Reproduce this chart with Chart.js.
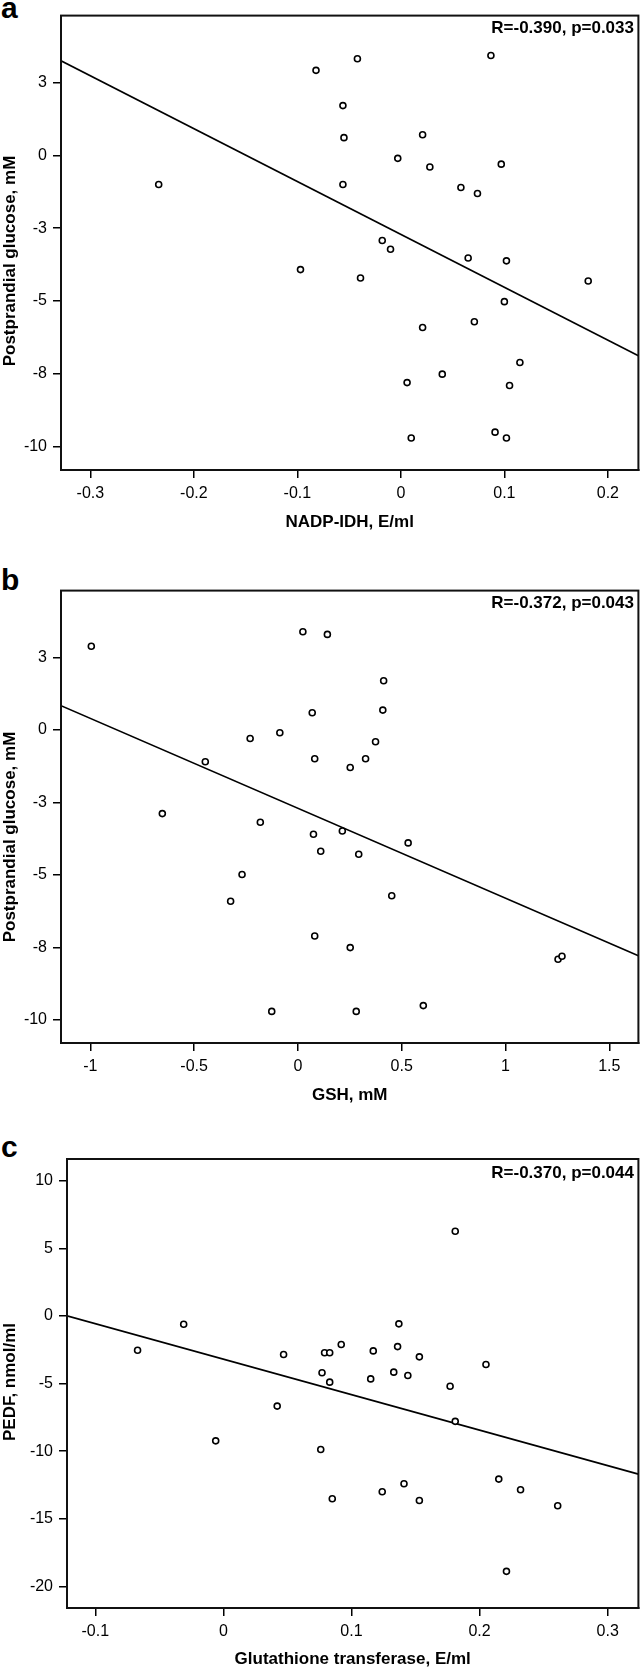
<!DOCTYPE html>
<html>
<head>
<meta charset="utf-8">
<script src="https://cdn.jsdelivr.net/npm/chart.js@4.4.1/dist/chart.umd.min.js"></script>
<style>
  html, body { margin: 0; padding: 0; background: #fff; }
  body { position: relative; width: 644px; height: 1670px; overflow: hidden; font-family: "Liberation Sans", Arial, sans-serif; color: #000; }
  canvas { position: absolute; left: 0; }
  .letter { position: absolute; left: 1px; font-weight: bold; font-size: 30px; line-height: 30px; }
  .stat { position: absolute; right: 10px; font-weight: bold; font-size: 17px; line-height: 17px; white-space: nowrap; }
  .ytitle { position: absolute; font-weight: bold; font-size: 17px; white-space: nowrap;
            transform: translate(-50%, -50%) rotate(-90deg); }
</style>
</head>
<body>
<div class="letter" style="top:-7px">a</div>
<div class="letter" style="top:565px">b</div>
<div class="letter" style="top:1132px">c</div>

<canvas id="chartA" width="644" height="533" style="top:0px"></canvas>
<canvas id="chartB" width="644" height="531" style="top:575px"></canvas>
<canvas id="chartC" width="644" height="530" style="top:1140px"></canvas>

<div class="stat" style="top:19px">R=-0.390, p=0.033</div>
<div class="stat" style="top:594px">R=-0.372, p=0.043</div>
<div class="stat" style="top:1164px">R=-0.370, p=0.044</div>

<div class="ytitle" style="left:10px; top:261px">Postprandial glucose, mM</div>
<div class="ytitle" style="left:10px; top:837px">Postprandial glucose, mM</div>
<div class="ytitle" style="left:10px; top:1382px">PEDF, nmol/ml</div>

<script>
// panel a: NADP-IDH vs postprandial glucose
const nadpX = [-0.082, -0.042, 0.087, -0.056, -0.055, 0.021, -0.003, 0.028, 0.097, -0.234,
               -0.056, 0.058, 0.074, -0.018, -0.010, 0.065, 0.102, -0.097, -0.039, 0.181,
               0.100, 0.071, 0.021, 0.115, 0.040, 0.006, 0.105, 0.091, 0.010, 0.102];
const glucoseA = [2.92, 3.32, 3.43, 1.71, 0.61, 0.71, -0.10, -0.40, -0.30, -1.00,
                  -1.00, -1.10, -1.31, -2.92, -3.22, -3.52, -3.62, -3.92, -4.21, -4.31,
                  -5.02, -5.71, -5.91, -7.11, -7.51, -7.80, -7.90, -9.50, -9.70, -9.70];
const fitAX = [-0.3284, 0.2295];
const fitAY = [3.25, -6.88];

// panel b: GSH vs postprandial glucose
const gshX = [-0.995, 0.024, 0.142, 0.413, 0.069, 0.409, -0.230, -0.087, 0.374, -0.446,
              0.081, 0.326, 0.252, -0.653, -0.181, 0.075, 0.214, 0.531, 0.110, 0.293,
              -0.269, -0.324, 0.452, 0.081, 0.252, 1.253, 1.272, -0.126, 0.281, 0.604];
const glucoseB = [2.88, 3.38, 3.29, 1.69, 0.59, 0.68, -0.30, -0.10, -0.41, -1.10,
                  -1.00, -1.00, -1.30, -2.89, -3.19, -3.60, -3.49, -3.90, -4.19, -4.29,
                  -4.99, -5.91, -5.72, -7.11, -7.51, -7.91, -7.81, -9.71, -9.71, -9.51];
const fitBX = [-1.141, 1.640];
const fitBY = [0.83, -7.79];

// panel c: glutathione transferase vs PEDF
const gstX = [0.181, -0.031, 0.137, -0.067, 0.047, 0.079, 0.083, 0.092, 0.117, 0.136,
              0.153, 0.205, 0.077, 0.083, 0.115, 0.133, 0.144, 0.177, 0.042, 0.181,
              -0.006, 0.076, 0.085, 0.124, 0.141, 0.153, 0.215, 0.232, 0.261, 0.221];
const pedf = [6.26, -0.62, -0.59, -2.54, -2.86, -2.73, -2.73, -2.12, -2.59, -2.27,
              -3.03, -3.60, -4.21, -4.90, -4.66, -4.16, -4.41, -5.20, -6.67, -7.80,
              -9.24, -9.88, -13.52, -13.00, -12.41, -13.65, -12.07, -12.86, -14.04, -18.89];
const fitCX = [-0.1221, 0.324];
const fitCY = [0.0, -11.70];

// ticks (SPSS rounds the 2.5 steps on the glucose axis)
const glucoseTicks = [2.5, 0, -2.5, -5, -7.5, -10];
const glucoseLabels = ['3', '0', '-3', '-5', '-8', '-10'];
const pedfTicks = [10, 5, 0, -5, -10, -15, -20];
const pedfLabels = ['10', '5', '0', '-5', '-10', '-15', '-20'];
const nadpTicks = [-0.3, -0.2, -0.1, 0, 0.1, 0.2];
const nadpLabels = ['-0.3', '-0.2', '-0.1', '0', '0.1', '0.2'];
const gshTicks = [-1, -0.5, 0, 0.5, 1, 1.5];
const gshLabels = ['-1', '-0.5', '0', '0.5', '1', '1.5'];
const gstTicks = [-0.1, 0, 0.1, 0.2, 0.3];
const gstLabels = ['-0.1', '0', '0.1', '0.2', '0.3'];

const FONT = "'Liberation Sans', Arial, sans-serif";

// closes the box around the plot area
const framePlugin = {
    id: 'frame',
    afterDraw(chart) {
        const { ctx, chartArea: a } = chart;
        ctx.save();
        ctx.strokeStyle = '#111';
        ctx.lineWidth = 2;
        ctx.strokeRect(a.left, a.top, a.right - a.left, a.bottom - a.top);
        ctx.restore();
    }
};

function zip(xs, ys) {
    return xs.map((x, i) => ({ x: x, y: ys[i] }));
}

function makePanel(id, cfg) {
    const ctx = document.getElementById(id).getContext('2d');
    return new Chart(ctx, {
        type: 'scatter',
        data: {
            datasets: [
                {
                    data: zip(cfg.x, cfg.y),
                    pointStyle: 'circle',
                    pointRadius: 3,
                    pointBorderWidth: 1.6,
                    borderColor: '#000',
                    backgroundColor: '#fff',
                },
                {
                    data: zip(cfg.fitX, cfg.fitY),
                    showLine: true,
                    pointRadius: 0,
                    borderColor: '#000',
                    borderWidth: 1.6,
                    fill: false,
                },
            ],
        },
        plugins: [framePlugin],
        options: {
            responsive: false,
            animation: false,
            devicePixelRatio: 1,
            layout: { padding: { top: cfg.padTop, right: 3, left: 0, bottom: 0 } },
            plugins: {
                legend: { display: false },
                tooltip: { enabled: false },
            },
            scales: {
                x: {
                    type: 'linear',
                    min: cfg.xMin,
                    max: cfg.xMax,
                    afterBuildTicks: (s) => { s.ticks = cfg.xTicks.map(v => ({ value: v })); },
                    afterFit: (s) => { s.height = cfg.xHeight; },
                    ticks: {
                        font: { family: FONT, size: 16 },
                        color: '#000',
                        padding: 6,
                        maxRotation: 0,
                        callback: (v) => cfg.xLabels[cfg.xTicks.indexOf(v)],
                    },
                    grid: { drawOnChartArea: false, drawTicks: true, tickLength: 8, color: '#000', lineWidth: 1.5 },
                    border: { display: true, color: '#111', width: 2 },
                    title: {
                        display: true,
                        text: cfg.xTitle,
                        font: { family: FONT, size: 17, weight: 'bold' },
                        color: '#000',
                        padding: { top: 0, bottom: 0 },
                    },
                },
                y: {
                    type: 'linear',
                    min: cfg.yMin,
                    max: cfg.yMax,
                    afterBuildTicks: (s) => { s.ticks = cfg.yTicks.map(v => ({ value: v })); },
                    afterFit: (s) => { s.width = cfg.yWidth; },
                    ticks: {
                        font: { family: FONT, size: 16 },
                        color: '#000',
                        padding: 6,
                        callback: (v) => cfg.yLabels[cfg.yTicks.indexOf(v)],
                    },
                    grid: { drawOnChartArea: false, drawTicks: true, tickLength: 8, color: '#000', lineWidth: 1.5 },
                    border: { display: true, color: '#111', width: 2 },
                },
            },
        },
    });
}

makePanel('chartA', {
    x: nadpX, y: glucoseA, fitX: fitAX, fitY: fitAY,
    xMin: -0.3284, xMax: 0.2295, yMin: -10.8, yMax: 4.8,
    xTicks: nadpTicks, xLabels: nadpLabels, yTicks: glucoseTicks, yLabels: glucoseLabels,
    xTitle: 'NADP-IDH, E/ml', padTop: 15, xHeight: 63, yWidth: 61,
});

makePanel('chartB', {
    x: gshX, y: glucoseB, fitX: fitBX, fitY: fitBY,
    xMin: -1.141, xMax: 1.640, yMin: -10.8, yMax: 4.8,
    xTicks: gshTicks, xLabels: gshLabels, yTicks: glucoseTicks, yLabels: glucoseLabels,
    xTitle: 'GSH, mM', padTop: 14, xHeight: 63, yWidth: 61,
});

makePanel('chartC', {
    x: gstX, y: pedf, fitX: fitCX, fitY: fitCY,
    xMin: -0.1221, xMax: 0.324, yMin: -21.6, yMax: 11.6,
    xTicks: gstTicks, xLabels: gstLabels, yTicks: pedfTicks, yLabels: pedfLabels,
    xTitle: 'Glutathione transferase, E/ml', padTop: 19, xHeight: 62, yWidth: 67,
});
</script>
</body>
</html>
